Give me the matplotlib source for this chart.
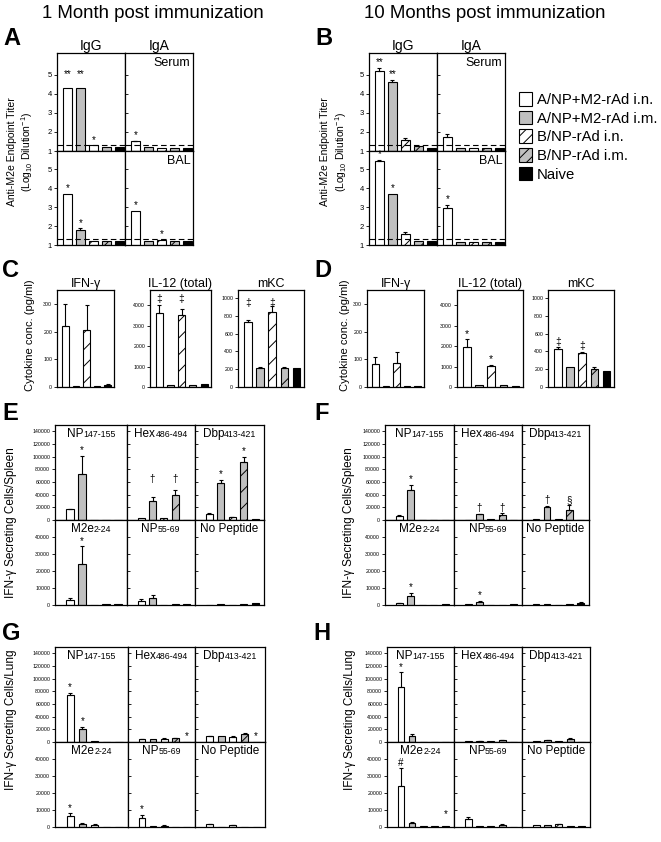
import matplotlib
matplotlib.use("Agg")
import matplotlib.pyplot as plt
from matplotlib.patches import Patch
from matplotlib.offsetbox import TextArea, HPacker, AnchoredOffsetbox

plt.rcParams["font.family"] = ["Liberation Sans", "DejaVu Sans"]
plt.rcParams["mathtext.fontset"] = "custom"
plt.rcParams["mathtext.rm"] = "Liberation Sans"
plt.rcParams["mathtext.it"] = "Liberation Sans:italic"
plt.rcParams["hatch.linewidth"] = 0.7

# groups (bar order in every panel)
groups = ["A/NP+M2-rAd i.n.", "A/NP+M2-rAd i.m.", "B/NP-rAd i.n.", "B/NP-rAd i.m.", "Naive"]
fills = ["white", "#c0c0c0", "white", "#c0c0c0", "black"]
hatches = [None, None, "//", "//", None]
legend_hatches = [None, None, "///", "///", None]

# A / B: anti-M2e endpoint titers (log10)
titer_ticks = [1, 2, 3, 4, 5]
detect_limit = 1.3
a_serum_igg = [4.3, 4.3, 1.3, 1.2, 1.2]
a_serum_igg_sig = [("**", 4.75), ("**", 4.75), "*", "", ""]
a_serum_iga = [1.5, 1.2, 1.15, 1.15, 1.15]
a_serum_iga_err = [0.05, 0, 0, 0, 0]
a_serum_iga_sig = ["*", "", "", "", ""]
a_bal_igg = [3.7, 1.8, 1.2, 1.2, 1.2]
a_bal_igg_err = [0, 0.07, 0, 0, 0]
a_bal_igg_sig = ["*", "*", "", "", ""]
a_bal_iga = [2.8, 1.2, 1.25, 1.2, 1.2]
a_bal_iga_sig = ["*", "", "*", "", ""]

b_serum_igg = [5.2, 4.6, 1.6, 1.25, 1.15]
b_serum_igg_err = [0.15, 0.15, 0.1, 0, 0]
b_serum_igg_sig = ["**", "**", "", "", ""]
b_serum_iga = [1.75, 1.15, 1.15, 1.15, 1.15]
b_serum_iga_err = [0.15, 0, 0, 0, 0]
b_bal_igg = [5.4, 3.7, 1.6, 1.2, 1.2]
b_bal_igg_err = [0.1, 0, 0.1, 0, 0]
b_bal_igg_sig = ["*", "*", "", "", ""]
b_bal_iga = [2.95, 1.15, 1.15, 1.15, 1.15]
b_bal_iga_err = [0.15, 0, 0, 0, 0]
b_bal_iga_sig = ["*", "", "", "", ""]

# C / D: cytokines (pg/ml)
cyto_names = ["IFN-\u03b3", "IL-12 (total)", "mKC"]
cyto_ticks = [[0, 100, 200, 300], [0, 1000, 2000, 3000, 4000], [0, 200, 400, 600, 800, 1000]]
cyto_ylim = [350, 4750, 1090]
c_vals = [[220, 3, 207, 5, 8], [3600, 80, 3550, 100, 130], [730, 215, 840, 215, 215]]
c_errs = [[78, 0, 90, 0, 2], [420, 0, 250, 0, 0], [20, 10, 70, 15, 0]]
c_sigs = [[""] * 5, ["\u2021", "", ("\u2021", 4050), "", ""],
          [("\u2021", 880), "", ("\u2021", 880), "", ""]]
d_vals = [[82, 3, 88, 5, 4], [1950, 80, 1020, 80, 60], [425, 230, 380, 200, 180]]
d_errs = [[28, 0, 40, 0, 0], [380, 0, 60, 0, 0], [20, 0, 15, 30, 0]]
d_sigs = [[""] * 5, ["*", "", "*", "", ""], ["\u2021", "", "\u2021", "", ""]]

# E-H: IFN-g secreting cells per organ, by peptide
peptides = [("NP", "147-155"), ("Hex", "486-494"), ("Dbp", "413-421"),
            ("M2e", "2-24"), ("NP", "55-69"), ("No Peptide", "")]
top_ticks = [0, 20000, 40000, 60000, 80000, 100000, 120000, 140000]
bottom_ticks = [0, 10000, 20000, 30000, 40000]

e_vals = [[17000, 73000, 300, 300, 300], [3000, 30000, 2500, 39000, 300],
          [10000, 58000, 4000, 91000, 1000], [3000, 24000, 200, 300, 600],
          [2300, 4000, 200, 300, 500], [200, 300, 100, 400, 1200]]
e_errs = [[1000, 28000, 0, 0, 0], [0, 7000, 0, 8000, 0], [1500, 5000, 500, 9000, 0],
          [1000, 10500, 0, 0, 0], [1000, 1800, 0, 0, 0], [0, 0, 0, 0, 0]]
e_sigs = [["", "*", "", "", ""], ["", ("\u2020", 55000), "", ("\u2020", 55000), ""],
          ["", "*", "", "*", ""], ["", "*", "", "", ""], [""] * 5, [""] * 5]

f_vals = [[7000, 47000, 300, 200, 300], [500, 9000, 1000, 8500, 200],
          [1500, 21000, 1200, 16000, 300], [1000, 5500, 100, 200, 400],
          [500, 2000, 200, 200, 400], [300, 300, 200, 500, 1300]]
f_errs = [[1500, 9000, 0, 0, 0], [0, 1000, 0, 2000, 0], [0, 1000, 0, 7000, 0],
          [300, 1700, 0, 0, 0], [0, 300, 0, 0, 0], [0, 0, 0, 0, 200]]
f_sigs = [["", "*", "", "", ""], ["", "\u2020", "", "\u2020", ""], ["", "\u2020", "", "\u00a7", ""],
          ["", "*", "", "", ""], ["", "*", "", "", ""], [""] * 5]

g_vals = [[74000, 21000, 1000, 0, 0], [5000, 4000, 5000, 6000, 0],
          [9000, 9000, 8000, 12000, 0], [6500, 2000, 1300, 0, 0],
          [5500, 300, 700, 0, 0], [1500, 0, 1000, 0, 0]]
g_errs = [[4000, 3000, 0, 0, 0], [500, 0, 1000, 500, 0], [1000, 0, 1000, 1500, 0],
          [1500, 300, 300, 0, 0], [1800, 0, 300, 0, 0], [400, 0, 400, 0, 0]]
g_sigs = [["*", "*", "", "", ""], ["", "", "", "", "*"], ["", "", "", "", "*"],
          ["*", "", "", "", ""], ["*", "", "", "", ""], [""] * 5]

h_vals = [[87000, 10000, 500, 0, 0], [800, 1200, 800, 2500, 0],
          [800, 2500, 1500, 4000, 0], [24000, 2200, 400, 300, 400],
          [4500, 500, 300, 1000, 0], [1200, 900, 1600, 400, 300]]
h_errs = [[23000, 3000, 0, 0, 0], [0, 300, 0, 700, 0], [0, 300, 0, 2000, 0],
          [10500, 800, 0, 0, 0], [1200, 0, 0, 500, 0], [0, 0, 300, 0, 0]]
h_sigs = [["*", "", "", "", ""], [""] * 5, [""] * 5,
          ["#", "", "", "", ("*", 4500)], [""] * 5, [""] * 5]


W, H = 661, 842
fig = plt.figure(figsize=(W / 100, H / 100), dpi=100)


def add_box(l, t, r, b):
    return fig.add_axes([l / W, 1 - b / H, (r - l) / W, (b - t) / H])


def draw_bars(ax, vals, errs=None, sigs=None, base=0, width=0.65, sigsize=7.5):
    for i in range(len(vals)):
        ax.bar(i, vals[i] - base, bottom=base, width=width, color=fills[i],
               edgecolor="black", hatch=hatches[i], linewidth=0.8, zorder=2)
        e = errs[i] if errs else 0
        if e:
            ax.errorbar(i, vals[i], yerr=[[0], [e]], fmt="none", ecolor="black",
                        elinewidth=0.8, capsize=1.5, capthick=0.8, zorder=3)
        s = sigs[i] if sigs else ""
        if s:
            y = vals[i] + e
            if isinstance(s, tuple):
                s, y = s
            ax.annotate(s, (i, y), xytext=(0, 0.5), textcoords="offset points",
                        ha="center", va="bottom", fontsize=sigsize, annotation_clip=False)


def frame(ax, xlim, ylim, ticks, size=4, inner=False):
    ax.set_xlim(*xlim)
    ax.set_ylim(*ylim)
    ax.set_xticks([])
    ax.set_yticks(ticks)
    ax.set_yticklabels([str(t) for t in ticks])
    ax.tick_params(axis="y", direction="in" if inner else "out", length=2, width=0.6,
                   labelsize=size, labelleft=not inner, pad=1.5)
    for sp in ax.spines.values():
        sp.set_linewidth(0.9)


def peptide_title(ax, main, sub):
    parts = [TextArea(main, textprops=dict(fontsize=8.5))]
    if sub:
        parts.append(TextArea(sub, textprops=dict(fontsize=6.3)))
    pack = HPacker(children=parts, align="baseline", pad=0, sep=0)
    ab = AnchoredOffsetbox(loc="upper center", child=pack, pad=0, borderpad=0.25, frameon=False)
    ax.add_artist(ab)


# ---- titles and panel letters
fig.text(153 / W, 1 - 18 / H, "1 Month post immunization", ha="center", va="baseline", fontsize=13.4)
fig.text(485 / W, 1 - 18 / H, "10 Months post immunization", ha="center", va="baseline", fontsize=13.4)
for letter, lx, ly in [("A", 3, 45), ("B", 315, 45), ("C", 2, 277), ("D", 314, 277),
                       ("E", 2, 420), ("F", 314, 420), ("G", 2, 640), ("H", 313, 640)]:
    fig.text(lx / W, 1 - ly / H, letter, ha="left", va="baseline", fontsize=17, fontweight="bold")


# ---- A and B
def titer_panel(x0, grid_vals, grid_errs, grid_sigs):
    cols = [(x0, x0 + 68), (x0 + 68, x0 + 136)]
    rows = [(53, 151, 6.15), (151, 245, 5.95)]
    for r, (t, b, ytop) in enumerate(rows):
        for c, (l, rr) in enumerate(cols):
            ax = add_box(l, t, rr, b)
            draw_bars(ax, grid_vals[r][c], grid_errs[r][c], grid_sigs[r][c], base=1, width=0.7, sigsize=7)
            ax.axhline(detect_limit, color="black", lw=0.8, ls=(0, (5, 3)), zorder=4)
            frame(ax, (-0.8, 4.45), (1, ytop), titer_ticks, size=5.5, inner=(c == 1))
            if r == 0:
                ax.set_title(["IgG", "IgA"][c], fontsize=10, pad=2)
            if c == 1:
                ax.text(0.96, 0.96, ["Serum", "BAL"][r], transform=ax.transAxes,
                        ha="right", va="top", fontsize=9)


titer_panel(57,
            [[a_serum_igg, a_serum_iga], [a_bal_igg, a_bal_iga]],
            [[None, a_serum_iga_err], [a_bal_igg_err, None]],
            [[a_serum_igg_sig, a_serum_iga_sig], [a_bal_igg_sig, a_bal_iga_sig]])
titer_panel(369,
            [[b_serum_igg, b_serum_iga], [b_bal_igg, b_bal_iga]],
            [[b_serum_igg_err, b_serum_iga_err], [b_bal_igg_err, b_bal_iga_err]],
            [[b_serum_igg_sig, None], [b_bal_igg_sig, b_bal_iga_sig]])

for x1, x2 in [(12, 27), (325, 341)]:
    fig.text(x1 / W, 1 - 152 / H, "Anti-M2e Endpoint Titer", rotation=90,
             ha="center", va="center", fontsize=7.5)
    fig.text(x2 / W, 1 - 152 / H, r"(Log$_{10}$ Dilution$^{-1}$)", rotation=90,
             ha="center", va="center", fontsize=7.5)

handles = [Patch(facecolor=fills[i], edgecolor="black", hatch=legend_hatches[i], linewidth=0.8)
           for i in range(len(groups))]
fig.legend(handles, groups, loc="upper left", bbox_to_anchor=(519 / W, 1 - 92 / H),
           frameon=False, fontsize=10.7, handlelength=0.9, handleheight=1.05,
           labelspacing=0.25, handletextpad=0.3, borderpad=0, borderaxespad=0)


# ---- C and D
def cyto_panel(boxes, vals, errs, sigs):
    for k, (l, r) in enumerate(boxes):
        ax = add_box(l, 290, r, 387)
        draw_bars(ax, vals[k], errs[k], sigs[k], width=0.62, sigsize=7.5)
        frame(ax, (-0.8, 4.6), (0, cyto_ylim[k]), cyto_ticks[k], size=3.8)
        ax.set_title(cyto_names[k], fontsize=9, pad=2)


cyto_panel([(57, 114), (150, 211), (238, 304)], c_vals, c_errs, c_sigs)
cyto_panel([(367, 424), (457, 523), (548, 614)], d_vals, d_errs, d_sigs)
fig.text(30 / W, 1 - 335 / H, "Cytokine conc. (pg/ml)", rotation=90, ha="center", va="center", fontsize=8)
fig.text(345 / W, 1 - 335 / H, "Cytokine conc. (pg/ml)", rotation=90, ha="center", va="center", fontsize=8)


# ---- E-H
def peptide_panel(cols, rows, vals, errs, sigs):
    k = 0
    for r in range(2):
        t, b = rows[r], rows[r + 1]
        for c in range(3):
            ax = add_box(cols[c], t, cols[c + 1], b)
            draw_bars(ax, vals[k], errs[k], sigs[k], width=0.6, sigsize=7)
            if r == 0:
                frame(ax, (-1.25, 4.75), (0, 150000), top_ticks, size=3.8, inner=(c > 0))
            else:
                frame(ax, (-1.25, 4.75), (0, 50000), bottom_ticks, size=3.8, inner=(c > 0))
            peptide_title(ax, *peptides[k])
            k += 1


peptide_panel([55, 127, 195, 264], [425, 520, 605], e_vals, e_errs, e_sigs)
peptide_panel([385, 454, 522, 589], [425, 520, 605], f_vals, f_errs, f_sigs)
peptide_panel([55, 128, 195, 265], [647, 742, 827], g_vals, g_errs, g_sigs)
peptide_panel([387, 454, 522, 590], [647, 742, 827], h_vals, h_errs, h_sigs)

for x, y, lab in [(11, 523, "IFN-\u03b3 Secreting Cells/Spleen"), (349, 523, "IFN-\u03b3 Secreting Cells/Spleen"),
                  (11, 720, "IFN-\u03b3 Secreting Cells/Lung"), (350, 720, "IFN-\u03b3 Secreting Cells/Lung")]:
    fig.text(x / W, 1 - y / H, lab, rotation=90, ha="center", va="center", fontsize=8.5)

fig.savefig("out.png", dpi=100)
